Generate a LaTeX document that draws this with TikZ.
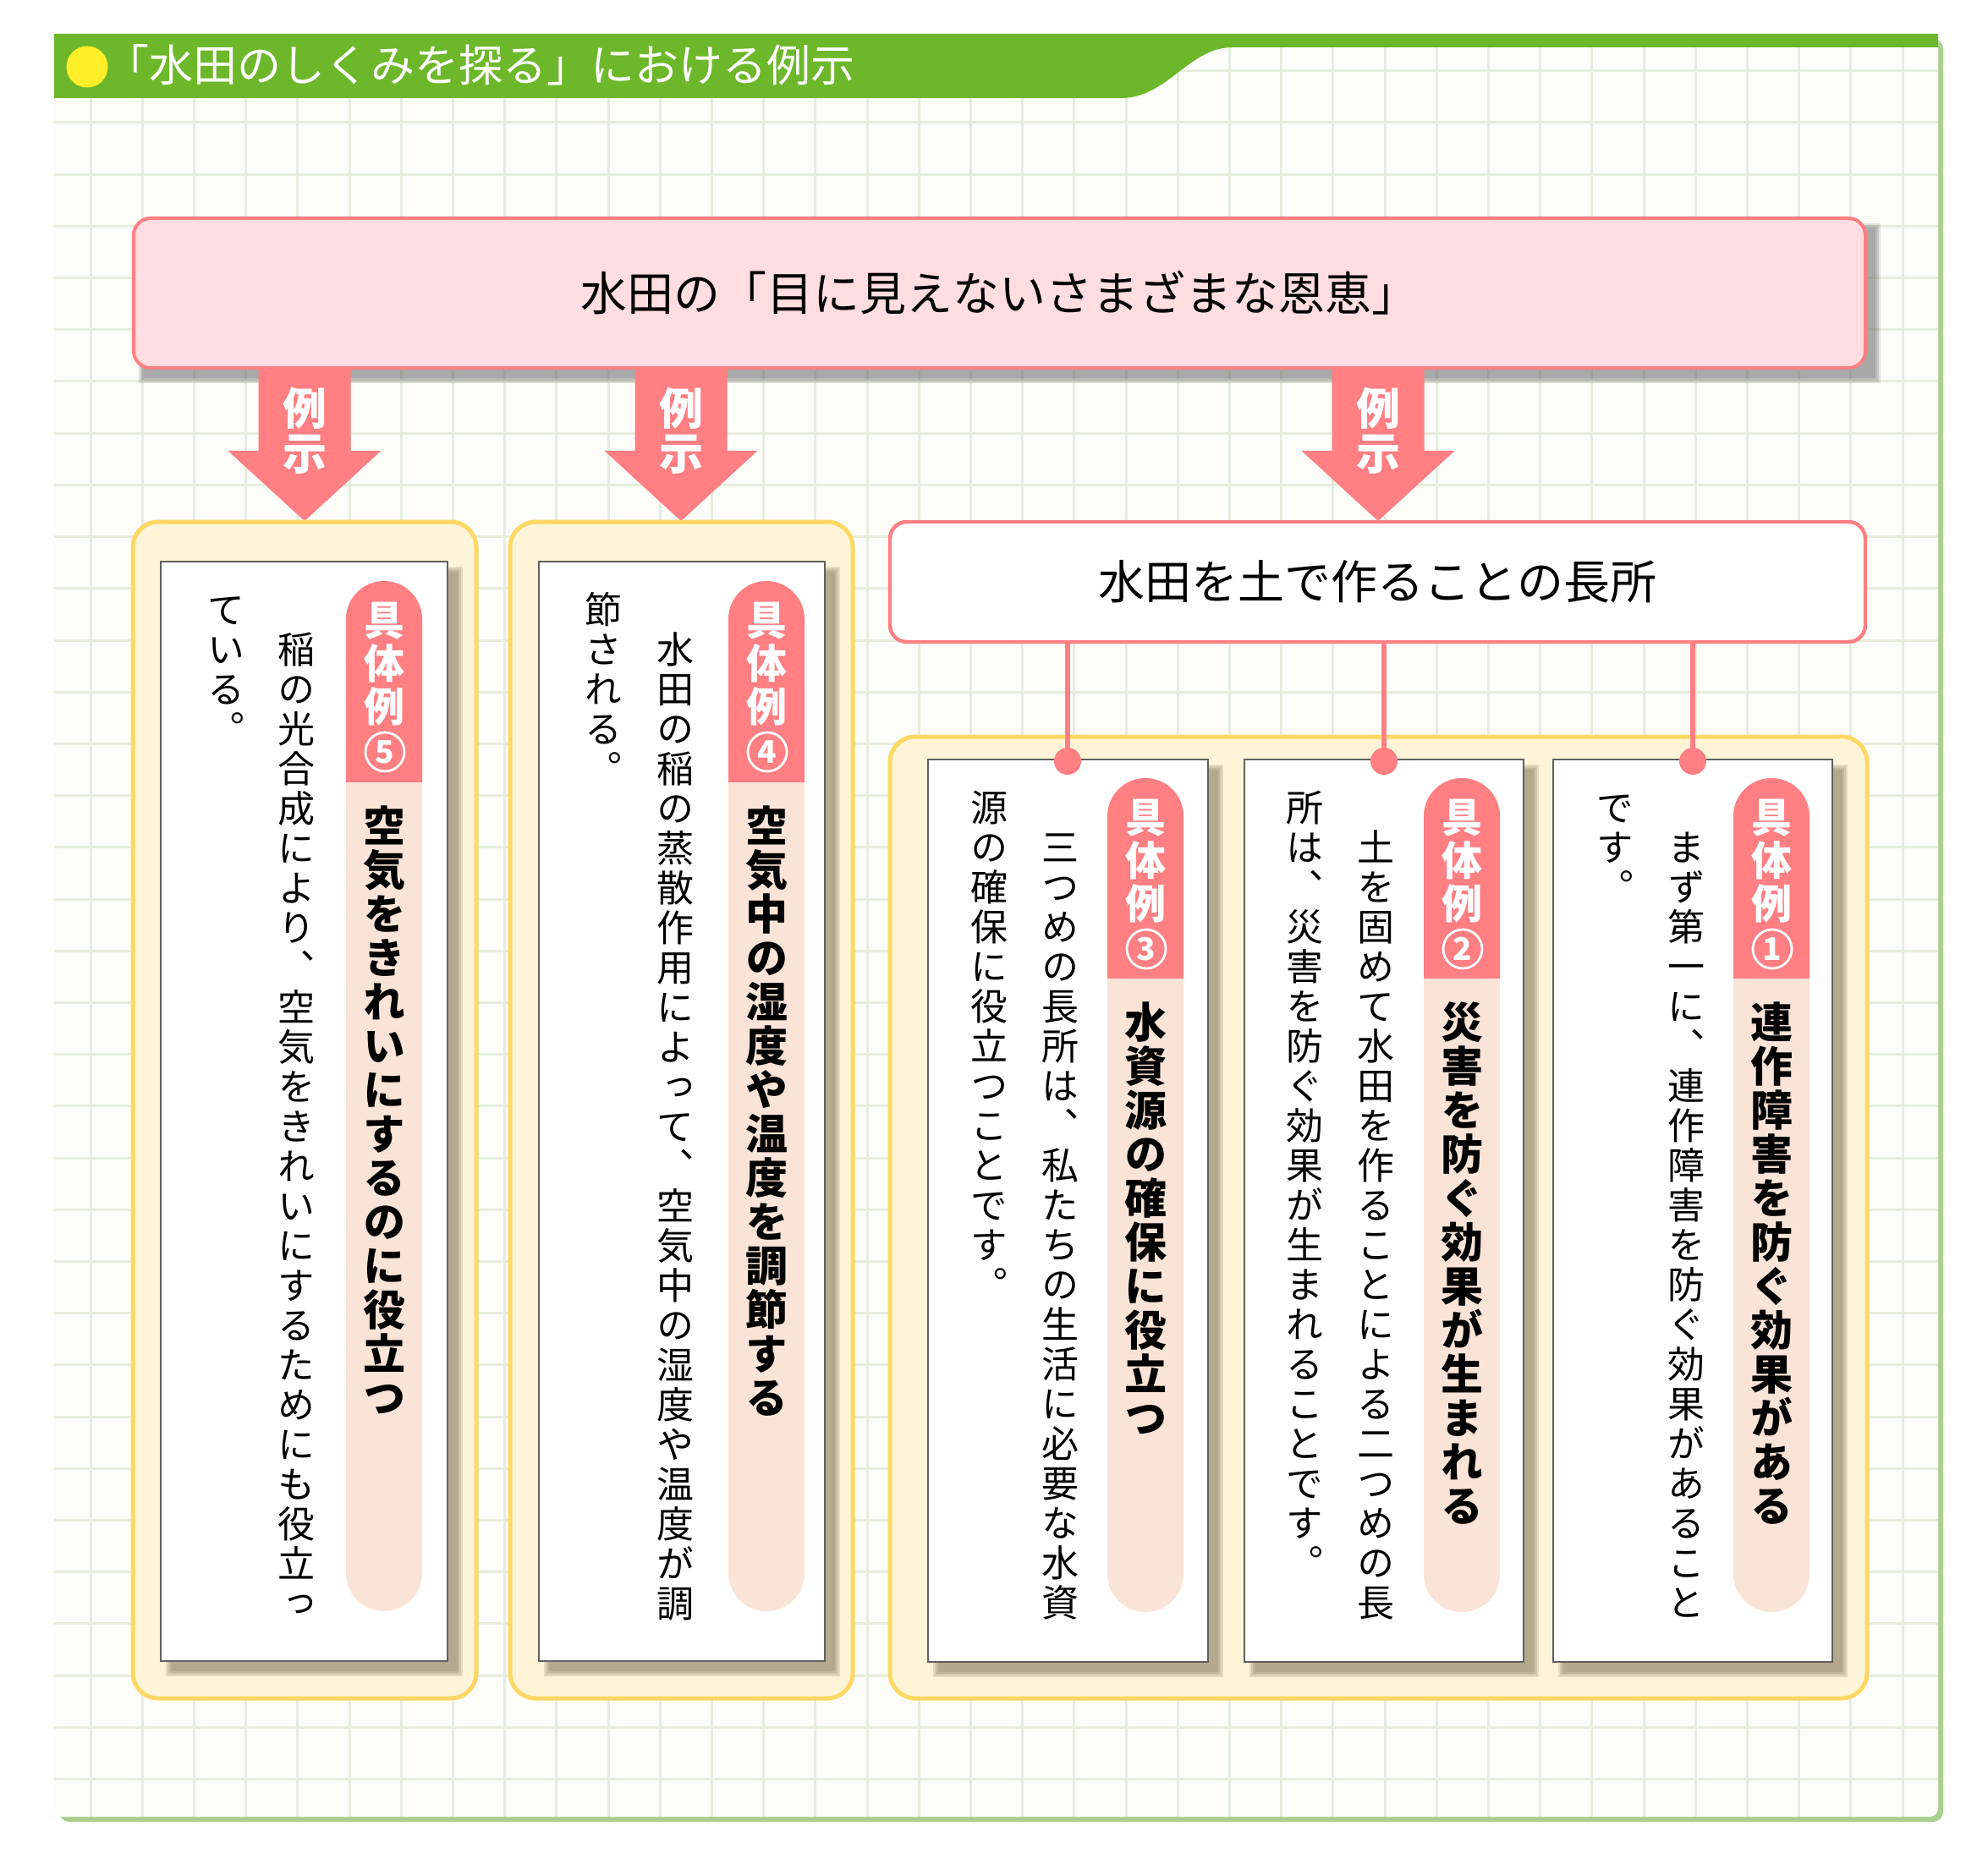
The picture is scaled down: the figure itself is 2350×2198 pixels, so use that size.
\documentclass[tikz,border=0pt]{standalone}
\usepackage{fontspec}
\setmainfont{Noto Sans CJK JP}
\newfontfamily\vjp[RawFeature=+vert]{Noto Sans CJK JP}
\ExplSyntaxOn
\NewDocumentCommand \vtext { m m }
  {
    \vbox:n
      {
        \offinterlineskip
        \tl_map_inline:nn {#2}
          {
            \hbox_to_wd:nn {#1}
              { \hss \vrule height 0.87\dimexpr #1 \relax depth 0.13\dimexpr #1 \relax width 0pt \relax ##1 \hss }
          }
      }
  }
\ExplSyntaxOff
\definecolor{hdrgreen}{RGB}{109,184,42}
\definecolor{panelshadow}{RGB}{169,209,142}
\definecolor{panelbg}{RGB}{252,253,249}
\definecolor{gridc}{RGB}{231,237,222}
\definecolor{dotyellow}{RGB}{255,238,40}
\definecolor{salmon}{RGB}{255,127,131}
\definecolor{pinkfill}{RGB}{255,221,225}
\definecolor{creamfill}{RGB}{254,245,216}
\definecolor{yellowline}{RGB}{255,216,100}
\definecolor{beige}{RGB}{250,228,215}
\definecolor{cardline}{RGB}{96,96,96}
\definecolor{shadowc}{RGB}{110,100,70}
\definecolor{shadowg}{RGB}{90,90,90}
\newcommand\softshadow[5]{%
  \foreach \s in {0,2,4,6}
    \fill[#1, opacity=0.16] ({#2+12-\s},{#3+12-\s}) rectangle ({#4+12+\s},{#5+12+\s});}
\tikzset{
  gridl/.style={draw=gridc, line width=1.5pt},
  ybox/.style={draw=yellowline, fill=creamfill, line width=2.5pt, rounded corners=15pt},
  cardbox/.style={draw=cardline, fill=white, line width=1pt},
  tagbeige/.style={fill=beige, rounded corners=22.5pt},
  tagpink/.style={fill=salmon, rounded corners=22.5pt},
  exarrow/.style={fill=salmon},
  arrowtxt/.style={inner sep=0, text=white, font=\bfseries\fontsize{26pt}{26pt}\selectfont},
  vlabel/.style={inner sep=0, anchor=north, text=white, font=\vjp\bfseries\fontsize{24pt}{24pt}\selectfont},
  vdigit/.style={circle, draw=white, line width=1.4pt, minimum size=23pt, inner sep=0,
                 text=white, font=\bfseries\fontsize{18.5pt}{18.5pt}\selectfont},
  vtitle/.style={inner sep=0, anchor=north, font=\vjp\bfseries\fontsize{25pt}{25pt}\selectfont},
  vbody/.style={inner sep=0, anchor=north, font=\vjp\fontsize{22pt}{22pt}\selectfont},
  conn/.style={draw=salmon, line width=3pt},
  dotc/.style={circle, fill=salmon, minimum size=16pt, inner sep=0},
}
\begin{document}
\begin{tikzpicture}[x=0.5pt,y=-0.5pt]
\useasboundingbox (0,0) rectangle (2350,2198);
\fill[white] (0,0) rectangle (2350,2198);
% panel
\fill[panelshadow, rounded corners=6pt] (70,46) rectangle (2297,2154);
\fill[panelbg, rounded corners=5pt] (64,40) rectangle (2291,2148);
\begin{scope}
  \clip (64,40) rectangle (2291,2148);
  \foreach \i in {0,...,35} \draw[gridl] ({107+61.2*\i},40) -- ({107+61.2*\i},2148);
  \foreach \j in {-1,...,32} \draw[gridl] (64,{145+61.2*\j}) -- (2291,{145+61.2*\j});
\end{scope}
% header
\fill[hdrgreen] (64,40) -- (2291,40) -- (2291,56) -- (1457,56)
  .. controls (1405,56) and (1380,116) .. (1325,116) -- (64,116) -- cycle;
\node[circle, fill=dotyellow, minimum size=24.5pt, inner sep=0] (ydot) at (103,79) {};
\node[inner sep=0, anchor=west, text=white, font=\fontsize{26pt}{26pt}\selectfont] (title) at (124,77) {「水田のしくみを探る」における例示};
% top box
\softshadow{shadowg}{158}{258}{2205}{435}
\foreach \cx/\n in {360/1,805/2,1629/3}{
  \fill[exarrow] ({\cx-54.5},420) -- ({\cx+54.5},420) -- ({\cx+54.5},533) -- ({\cx+90.5},533)
    -- (\cx,616) -- ({\cx-90.5},533) -- ({\cx-54.5},533) -- cycle;
}
\node[draw=salmon, fill=pinkfill, line width=2pt, rounded corners=10pt,
      minimum width=1023.5pt, minimum height=88.5pt, inner sep=0,
      font=\fontsize{27.5pt}{27.5pt}\selectfont] (benefit) at (1181.5,346.5) {水田の「目に見えないさまざまな恩恵」};
\foreach \cx/\n in {360/1,805/2,1629/3}{
  \node[arrowtxt] (ar\n a) at (\cx,483) {例};
  \node[arrowtxt] (ar\n b) at (\cx,537) {示};
}
% yellow boxes
\draw[ybox] (157,617) rectangle (563,2008);
\draw[ybox] (603,617) rectangle (1008,2008);
\draw[ybox] (1052,871) rectangle (2207,2008);
% merit box
\node[draw=salmon, fill=white, line width=2.2pt, rounded corners=10pt,
      minimum width=576.5pt, minimum height=71pt, inner sep=0,
      font=\fontsize{27.5pt}{27.5pt}\selectfont] (merit) at (1628.5,688) {水田を土で作ることの長所};
% cards
\softshadow{shadowc}{190}{664}{529}{1964}
\softshadow{shadowc}{637}{664}{975}{1964}
\softshadow{shadowc}{1097}{898}{1428}{1965}
\softshadow{shadowc}{1471}{898}{1801}{1965}
\softshadow{shadowc}{1836}{898}{2166}{1965}
\draw[cardbox] (190,664) rectangle (529,1964);
\draw[cardbox] (637,664) rectangle (975,1964);
\draw[cardbox] (1097,898) rectangle (1428,1965);
\draw[cardbox] (1471,898) rectangle (1801,1965);
\draw[cardbox] (1836,898) rectangle (2166,1965);
% tags
\foreach \xa/\xb/\ta/\pe/\tb in {409/499/687/924/1905, 861/951/687/924/1905,
   1309/1399/920/1156/1906, 1683/1773/920/1156/1906, 2049/2139/920/1156/1906}{
  \fill[tagbeige] (\xa,\ta) rectangle (\xb,\tb);
  \begin{scope}
    \clip (\xa,\ta) rectangle (\xb,\pe);
    \fill[tagpink] (\xa,\ta) rectangle (\xb,\tb);
  \end{scope}
}
% card 5
\node[vlabel] (l5) at (454,707) {\vtext{25.5pt}{具体例}};
\node[vdigit] (n5) at (455,889) {5};
\node[vtitle] (t5) at (454,950) {\vtext{26pt}{空気をきれいにするのに役立つ}};
\node[vbody] (b5a) at (350,743) {\vtext{23.5pt}{稲の光合成により、空気をきれいにするためにも役立っ}};
\node[vbody] (b5b) at (267,696) {\vtext{23.5pt}{ている。}};
% card 4
\node[vlabel] (l4) at (906,707) {\vtext{25.5pt}{具体例}};
\node[vdigit] (n4) at (907,889) {4};
\node[vtitle] (t4) at (906,950) {\vtext{26pt}{空気中の湿度や温度を調節する}};
\node[vbody] (b4a) at (798,743) {\vtext{23.5pt}{水田の稲の蒸散作用によって、空気中の湿度や温度が調}};
\node[vbody] (b4b) at (713,696) {\vtext{23.5pt}{節される。}};
% card 3
\node[vlabel] (l3) at (1354,940) {\vtext{25.5pt}{具体例}};
\node[vdigit] (n3) at (1355,1122) {3};
\node[vtitle] (t3) at (1354,1182) {\vtext{26pt}{水資源の確保に役立つ}};
\node[vbody] (b3a) at (1253,977) {\vtext{23.5pt}{三つめの長所は、私たちの生活に必要な水資}};
\node[vbody] (b3b) at (1169,930) {\vtext{23.5pt}{源の確保に役立つことです。}};
% card 2
\node[vlabel] (l2) at (1728,940) {\vtext{25.5pt}{具体例}};
\node[vdigit] (n2) at (1729,1122) {2};
\node[vtitle] (t2) at (1728,1182) {\vtext{26pt}{災害を防ぐ効果が生まれる}};
\node[vbody] (b2a) at (1626,977) {\vtext{23.5pt}{土を固めて水田を作ることによる二つめの長}};
\node[vbody] (b2b) at (1542,930) {\vtext{23.5pt}{所は、災害を防ぐ効果が生まれることです。}};
% card 1
\node[vlabel] (l1) at (2094,940) {\vtext{25.5pt}{具体例}};
\node[vdigit] (n1) at (2095,1122) {1};
\node[vtitle] (t1) at (2094,1182) {\vtext{26pt}{連作障害を防ぐ効果がある}};
\node[vbody] (b1a) at (1993,977) {\vtext{23.5pt}{まず第一に、連作障害を防ぐ効果があること}};
\node[vbody] (b1b) at (1909,930) {\vtext{23.5pt}{です。}};
% connectors
\node[dotc] (d3) at (1262,900) {};
\node[dotc] (d2) at (1636,900) {};
\node[dotc] (d1) at (2001,900) {};
\foreach \d in {d3,d2,d1} \draw[conn] (merit.south -| \d) -- (\d.center);
\end{tikzpicture}
\end{document}
